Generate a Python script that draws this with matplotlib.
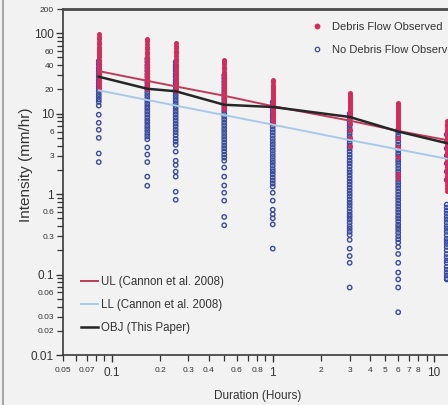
import matplotlib
matplotlib.use("Agg")
import matplotlib.pyplot as plt
from matplotlib.lines import Line2D
from matplotlib.ticker import FixedLocator, FixedFormatter

plt.rcParams['font.family'] = ['Liberation Sans Narrow', 'Liberation Sans', 'DejaVu Sans']

# ---------------- data ----------------
durations = [5/60, 10/60, 15/60, 0.5, 1, 3, 6, 12]

debris_obs = [
    [97, 90, 84, 78, 73, 68, 64, 60, 56, 53, 50, 47, 44, 42, 40, 38, 36, 34, 32, 30, 28, 26.5, 25, 23, 21],
    [85, 79, 73, 68, 63, 59, 55, 51, 48, 45, 42, 39.5, 37, 35, 33, 31, 29, 27.5, 26, 24.5, 23, 21.5, 20],
    [76, 70, 65, 60, 56, 52, 48, 45, 42, 39, 36.5, 34, 32, 30, 28, 26.5, 25, 23.5, 22, 20.5, 19],
    [47, 44, 41, 38, 35.5, 33, 31, 29, 27, 25, 23.5, 22, 20.5, 19, 18, 17, 16, 15, 14, 13, 12.2, 11.5],
    [26, 24.5, 23, 21.5, 20, 19, 18, 17, 16, 15, 14.2, 13.4, 12.7, 12, 11.3, 10.6, 10, 9.4, 8.8, 8.2, 7.7],
    [18, 17, 16, 15.2, 14.4, 13.6, 12.9, 12.2, 11.5, 10.9, 10.3, 9.8, 9.3, 8.8, 7.5, 6.2, 5.0, 4.0],
    [13.7, 13, 12.3, 11.6, 11, 10.4, 9.8, 9.3, 8.8, 8.3, 7.8, 7.4, 7, 6.6, 6.3, 5.0, 3.8, 2.9, 1.8, 1.6],
    [8, 7.5, 7, 6.5, 6.1, 5.7, 5.3, 5, 4.7, 4.4, 4.1, 3.8, 3.6, 3.3, 3.1, 2.9, 2.7, 2.5, 2.3, 2.15,
     2.0, 1.85, 1.7, 1.6, 1.5, 1.4, 1.3, 1.2, 1.1],
]

no_debris = [
    [45, 41, 37, 34, 31, 28.5, 26, 24, 22, 20.5, 19, 17.5, 16.2, 15, 14, 12.6, 9.7, 7.7, 6.3, 5.0, 3.2, 2.5],
    [48, 44, 40, 37, 34, 31, 28.5, 26, 24, 22, 20, 18.5, 17, 15.7, 14.5, 13.4, 12.4, 11.5, 10.6, 9.8, 9,
     8.3, 7.7, 7.1, 6.6, 6.1, 5.6, 5.2, 4.8, 3.8, 3.1, 2.5, 1.65, 1.27],
    [44, 40, 37, 34, 31, 28.5, 26, 24, 22, 20, 18.5, 17, 15.7, 14.5, 13.4, 12.4, 11.5, 10.6, 9.8, 9, 8.3,
     7.6, 7, 6.4, 5.9, 5.4, 4.9, 4.5, 4.1, 3.37, 2.6, 2.3, 1.9, 1.65, 1.07, 0.85],
    [30, 27.5, 25, 23, 21, 19.3, 17.8, 16.4, 15.1, 13.9, 12.8, 11.8, 10.9, 10, 9.2, 8.5, 7.8, 7.2, 6.6,
     6.1, 5.6, 5.15, 4.75, 4.35, 4.0, 3.7, 3.4, 3.1, 2.85, 2.6, 2.14, 1.65, 1.28, 1.04, 0.83, 0.52, 0.41],
    [14, 12.8, 11.7, 10.7, 9.8, 9, 8.2, 7.5, 6.9, 6.3, 5.8, 5.3, 4.85, 4.45, 4.1, 3.75, 3.45, 3.15, 2.9,
     2.65, 2.45, 2.25, 2.05, 1.9, 1.75, 1.6, 1.47, 1.35, 1.24, 1.04, 0.83, 0.64, 0.56, 0.5, 0.42, 0.21],
    [10, 9.2, 8.5, 7.8, 7.2, 6.6, 6.1, 5.6, 5.15, 4.75, 4.35, 4.0, 3.7, 3.4, 3.1, 2.85, 2.6, 2.4, 2.2,
     2.0, 1.85, 1.7, 1.56, 1.43, 1.32, 1.21, 1.11, 1.02, 0.94, 0.86, 0.79, 0.73, 0.67, 0.61, 0.56, 0.52,
     0.48, 0.44, 0.4, 0.37, 0.34, 0.31, 0.27, 0.21, 0.17, 0.14, 0.069],
    [6.3, 5.8, 5.3, 4.9, 4.5, 4.1, 3.8, 3.5, 3.2, 2.95, 2.7, 2.5, 2.3, 2.1, 1.93, 1.77, 1.63, 1.5, 1.38,
     1.27, 1.17, 1.07, 0.98, 0.9, 0.83, 0.76, 0.7, 0.64, 0.59, 0.54, 0.5, 0.46, 0.42, 0.39, 0.36, 0.33,
     0.3, 0.275, 0.25, 0.22, 0.18, 0.14, 0.106, 0.087, 0.069, 0.034],
    [5.5, 4.5, 3.7, 3.0, 2.4, 1.9, 1.5, 0.74, 0.68, 0.62, 0.57, 0.52, 0.48, 0.44, 0.4, 0.37, 0.34, 0.31,
     0.28, 0.26, 0.24, 0.22, 0.2, 0.18, 0.165, 0.15, 0.14, 0.125, 0.115, 0.105, 0.097, 0.09, 0.087],
]

ul_cannon = [33.8, 25.6, 21.8, 16.7, 12.4, 8.2, 6.1, 4.7]
ll_cannon = [19.5, 14.8, 12.6, 9.6, 7.3, 4.7, 3.6, 2.75]
obj_paper = [28.8, 20.4, 19.0, 12.9, 12.1, 9.1, 6.0, 4.3]

y_major = [0.01, 0.1, 1, 10, 100]
y_major_labels = ['0.01', '0.1', '1', '10', '100']
y_minor_labeled = {0.02: '0.02', 0.03: '0.03', 0.06: '0.06', 0.3: '0.3', 0.6: '0.6',
                   3: '3', 6: '6', 20: '20', 40: '40', 60: '60', 200: '200'}
x_major = [0.1, 1, 10]
x_major_labels = ['0.1', '1', '10']
x_minor_labeled = {0.05: '0.05', 0.07: '0.07', 0.2: '0.2', 0.3: '0.3', 0.4: '0.4', 0.6: '0.6',
                   0.8: '0.8', 2: '2', 3: '3', 4: '4', 5: '5', 6: '6', 7: '7', 8: '8'}

# ---------------- colours ----------------
BG = '#f2f2f2'
RED = '#d42a5c'
BLUE = '#3b4aa0'
UL_C = '#c23a5a'
LL_C = '#a9c9e8'
OBJ_C = '#262626'
TXT = '#333333'

fig = plt.figure(figsize=(4.48, 4.05), dpi=100, facecolor=BG)
W, H = 448, 405
x0, x1 = 63, 482.5
ytop, ybot = 9, 355
ax = fig.add_axes([x0 / W, 1 - ybot / H, (x1 - x0) / W, (ybot - ytop) / H])
ax.set_facecolor(BG)
ax.set_xscale('log')
ax.set_yscale('log')
ax.set_xlim(0.05, 20)
ax.set_ylim(0.01, 200)

# scatter
for d, vals in zip(durations, no_debris):
    ax.scatter([d] * len(vals), vals, s=10, facecolors='none', edgecolors=BLUE,
               linewidths=1.0, zorder=2, clip_on=False)
for d, vals in zip(durations, debris_obs):
    ax.scatter([d] * len(vals), vals, s=13, color=RED, linewidths=0, zorder=3, clip_on=False)

# lines
l_ul, = ax.plot(durations, ul_cannon, color=UL_C, lw=1.4, zorder=4)
l_ll, = ax.plot(durations, ll_cannon, color=LL_C, lw=1.4, zorder=4)
l_obj, = ax.plot(durations, obj_paper, color=OBJ_C, lw=1.8, zorder=5)

# ticks
ax.yaxis.set_major_locator(FixedLocator(y_major))
ax.yaxis.set_major_formatter(FixedFormatter(y_major_labels))
y_minor = []
for dec in [0.01, 0.1, 1, 10, 100]:
    for m in range(2, 10):
        v = round(dec * m, 6)
        if v <= 200:
            y_minor.append(v)
ax.yaxis.set_minor_locator(FixedLocator(y_minor))
ax.yaxis.set_minor_formatter(FixedFormatter([y_minor_labeled.get(v, '') for v in y_minor]))

ax.xaxis.set_major_locator(FixedLocator(x_major))
ax.xaxis.set_major_formatter(FixedFormatter(x_major_labels))
x_minor = []
for dec in [0.01, 0.1, 1, 10]:
    for m in range(2, 10):
        v = round(dec * m, 6)
        if 0.05 <= v <= 20:
            x_minor.append(v)
ax.xaxis.set_minor_locator(FixedLocator(x_minor))
ax.xaxis.set_minor_formatter(FixedFormatter([x_minor_labeled.get(v, '') for v in x_minor]))

ax.tick_params(which='major', labelsize=8.5, colors=TXT, length=5, width=1.0, pad=1.5)
ax.tick_params(which='minor', labelsize=6, colors=TXT, length=4, width=0.9, pad=2.5)
ax.tick_params(axis='x', which='major', pad=3.5)
ax.tick_params(axis='x', which='minor', pad=5)

for s in ['left', 'bottom']:
    ax.spines[s].set_color('#3a3a3a')
    ax.spines[s].set_linewidth(1.2)
ax.spines['top'].set_color('#4a4a4a')
ax.spines['top'].set_linewidth(2.0)
ax.spines['right'].set_visible(False)

# labels
fig.text(26 / W, 1 - 165 / H, 'Intensity (mm/hr)', rotation=90, ha='center', va='center',
         fontsize=11, color=TXT)
fig.text(258 / W, 1 - 396 / H, 'Duration (Hours)', ha='center', va='center',
         fontsize=8.5, color=TXT)

# legends
h_red = Line2D([], [], marker='o', ls='none', markersize=3.2, markerfacecolor=RED,
               markeredgecolor=RED)
h_blue = Line2D([], [], marker='o', ls='none', markersize=3.2, markerfacecolor='none',
                markeredgecolor=BLUE, markeredgewidth=0.9)
fig.legend([h_red, h_blue], ['Debris Flow Observed', 'No Debris Flow Observed'],
           loc='upper left', bbox_to_anchor=(313 / W, 1 - 22 / H), frameon=False,
           fontsize=8.0, handlelength=0.8, handletextpad=0.9, labelspacing=1.2,
           borderpad=0, borderaxespad=0, labelcolor=TXT)

fig.legend([l_ul, l_ll, l_obj],
           ['UL (Cannon et al. 2008)', 'LL (Cannon et al. 2008)', 'OBJ (This Paper)'],
           loc='upper left', bbox_to_anchor=(81 / W, 1 - 276 / H), frameon=False,
           fontsize=8.3, handlelength=1.5, handletextpad=0.25, labelspacing=0.95,
           borderpad=0, borderaxespad=0, labelcolor=TXT)

# frame border on the left edge
fig.add_artist(Line2D([2.5 / W, 2.5 / W], [0, 1], transform=fig.transFigure,
                      color='#a8a8a8', lw=1.5))

fig.savefig('out.png', dpi=100, facecolor=BG)
